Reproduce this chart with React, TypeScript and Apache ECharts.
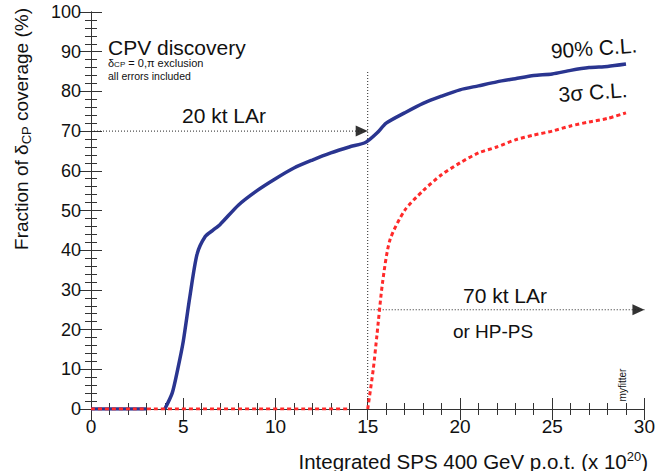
import React, { useEffect, useRef } from "react";
import * as echarts from "echarts";

const xTicks = [0, 5, 10, 15, 20, 25, 30];
const yTicks = [0, 10, 20, 30, 40, 50, 60, 70, 80, 90, 100];

// 90% C.L. curve (blue)
const blueX = [0, 3, null, 4.0, 4.4, 4.7, 5.0, 5.35, 5.75, 6.2, 6.6, 7, 8, 9, 10, 11, 12, 13, 14, 14.9, 15.5, 16, 17, 18, 19, 20, 21, 22, 23, 24, 25, 26, 27, 28, 29];
const blueY = [0, 0, null, 0, 4, 10, 17, 28, 39, 43.5, 45, 46.5, 51.4, 55, 58, 60.7, 62.7, 64.5, 66, 67.2, 69.5, 72, 74.6, 77, 78.8, 80.4, 81.4, 82.4, 83.2, 84, 84.4, 85.3, 86, 86.3, 86.9];

// 3 sigma C.L. curve (red)
const redX = [0, 13.9, null, 15.0, 15.3, 15.5, 15.8, 16.2, 17, 18, 19, 20, 21, 22, 23, 24, 25, 26, 27, 28, 29];
const redY = [0, 0, null, 0, 10, 18.6, 31.7, 42.5, 50, 55, 59, 62, 64.5, 66, 67.8, 69, 70, 71.3, 72.3, 73.2, 74.6];

// annotation guide lines
const line20X = [0, 15];
const line20Y = [70, 70];
const line70X = [15, 30];
const line70Y = [25, 25];
const vLineX = [15, 15];
const vLineY = [0, 85];

const FONT = "'Liberation Sans', Arial, Helvetica, sans-serif";

function pairs(xs: (number | null)[], ys: (number | null)[]) {
  return xs.map((x, i) => (x === null ? [null, null] : [x, ys[i]]));
}

export default function App() {
  const ref = useRef<HTMLDivElement>(null);
  useEffect(() => {
    if (!ref.current) return;
    const chart = echarts.init(ref.current, null, { renderer: "svg" });
    const axisLine = { show: true, lineStyle: { color: "#333", width: 1 } };
    const tickStyle = { color: "#333", width: 1 };
    const option: any = {
      animation: false,
      grid: { left: 91, right: 13, top: 12, bottom: 62 },
      xAxis: [
        {
          type: "value", min: 0, max: 30, interval: 5,
          axisLine, splitLine: { show: false },
          axisTick: { show: true, inside: true, length: 11, lineStyle: tickStyle },
          minorTick: { show: true, splitNumber: 5, length: 6, lineStyle: tickStyle },
          axisLabel: { fontFamily: FONT, fontSize: 19, color: "#111", margin: 8,
            formatter: (v: number) => (xTicks.includes(v) ? String(v) : "") },
        },
        {
          type: "value", min: 0, max: 30, interval: 5, position: "top",
          axisLine, splitLine: { show: false }, axisLabel: { show: false },
          axisTick: { show: true, inside: true, length: 11, lineStyle: tickStyle },
          minorTick: { show: true, splitNumber: 5, length: 6, lineStyle: tickStyle },
        },
      ],
      yAxis: [
        {
          type: "value", min: 0, max: 100, interval: 10,
          axisLine, splitLine: { show: false },
          axisTick: { show: true, inside: true, length: 11, lineStyle: tickStyle },
          minorTick: { show: true, splitNumber: 5, length: 6, lineStyle: tickStyle },
          axisLabel: { fontFamily: FONT, fontSize: 18, color: "#111", margin: 10,
            formatter: (v: number) => (yTicks.includes(v) ? String(v) : "") },
        },
        {
          type: "value", min: 0, max: 100, interval: 10, position: "right",
          axisLine, splitLine: { show: false }, axisLabel: { show: false },
          axisTick: { show: true, inside: true, length: 11, lineStyle: tickStyle },
          minorTick: { show: true, splitNumber: 5, length: 6, lineStyle: tickStyle },
        },
      ],
      series: [
        {
          type: "line", data: pairs(vLineX, vLineY), showSymbol: false, silent: true,
          lineStyle: { color: "#222", width: 1, type: [1, 2] },
        },
        {
          type: "line", data: pairs(line20X, line20Y), showSymbol: false, silent: true,
          lineStyle: { color: "#222", width: 1, type: [1, 2] },
        },
        {
          type: "line", data: pairs(line70X, line70Y), showSymbol: false, silent: true,
          lineStyle: { color: "#222", width: 1, type: [1, 2] },
        },
        {
          type: "scatter", silent: true,
          data: [[line20X[1], line20Y[1]], [line70X[1], line70Y[1]]],
          symbol: "triangle", symbolSize: [11, 12], symbolRotate: -90,
          symbolOffset: [-6, 0],
          itemStyle: { color: "#000" },
        },
        {
          type: "line", data: pairs(blueX, blueY), showSymbol: false, connectNulls: false,
          smooth: 0.25, silent: true,
          lineStyle: { color: "#2a3590", width: 3.5 },
        },
        {
          type: "line", data: pairs(redX, redY), showSymbol: false, connectNulls: false,
          smooth: 0.25, silent: true,
          lineStyle: { color: "#ff2a2a", width: 3, type: [4, 3] },
        },
      ],
      graphic: [
        { type: "text", x: 108, y: 47, style: { text: "CPV discovery", fontFamily: FONT, fontSize: 21, fill: "#111", verticalAlign: "middle" } },
        {
          type: "text", x: 108, y: 63,
          style: {
            text: "δ{sub|CP} = 0,π exclusion", fontFamily: FONT, fontSize: 11, fill: "#111", verticalAlign: "middle",
            rich: { sub: { fontSize: 8, fontFamily: FONT, fill: "#111", padding: [3, 0, 0, 0] } },
          },
        },
        { type: "text", x: 108, y: 76, style: { text: "all errors included", fontFamily: FONT, fontSize: 10.5, fill: "#111", verticalAlign: "middle" } },
        { type: "text", x: 594, y: 48, rotation: 0.07, style: { text: "90% C.L.", fontFamily: FONT, fontSize: 21, fill: "#111", align: "center", verticalAlign: "middle" } },
        { type: "text", x: 593, y: 92, rotation: 0.07, style: { text: "3σ C.L.", fontFamily: FONT, fontSize: 21, fill: "#111", align: "center", verticalAlign: "middle" } },
        { type: "text", x: 224, y: 115, style: { text: "20 kt LAr", fontFamily: FONT, fontSize: 21, fill: "#111", align: "center", verticalAlign: "middle" } },
        { type: "text", x: 505, y: 295, style: { text: "70 kt LAr", fontFamily: FONT, fontSize: 21, fill: "#111", align: "center", verticalAlign: "middle" } },
        { type: "text", x: 493, y: 331, style: { text: "or HP-PS", fontFamily: FONT, fontSize: 19, fill: "#111", align: "center", verticalAlign: "middle" } },
        { type: "text", x: 622, y: 385, rotation: Math.PI / 2, style: { text: "myfitter", fontFamily: FONT, fontSize: 10, fill: "#111", align: "center", verticalAlign: "middle" } },
        {
          type: "text", x: 21, y: 129, rotation: Math.PI / 2,
          style: {
            text: "Fraction of δ{sub|CP} coverage (%)", fontFamily: FONT, fontSize: 19, fill: "#111",
            align: "center", verticalAlign: "middle",
            rich: { sub: { fontSize: 13, fontFamily: FONT, fill: "#111", padding: [10, 0, 0, 0] } },
          },
        },
        {
          type: "text", x: 648, y: 461,
          style: {
            text: "Integrated SPS 400 GeV p.o.t. (x 10{sup|20})", fontFamily: FONT, fontSize: 20.5, fill: "#111",
            align: "right", verticalAlign: "middle",
            rich: { sup: { fontSize: 13, fontFamily: FONT, fill: "#111", padding: [0, 0, 10, 0] } },
          },
        },
      ],
    };
    chart.setOption(option);
    return () => chart.dispose();
  }, []);
  return <div ref={ref} style={{ position: "absolute", left: 0, top: 0, width: 658, height: 471 }} />;
}
